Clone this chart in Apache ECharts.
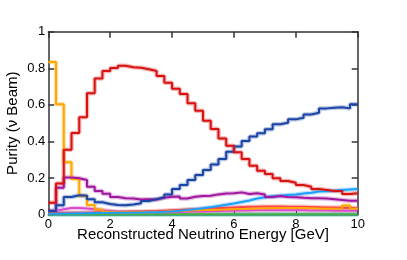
<!DOCTYPE html>
<html><head><meta charset="utf-8">
<script src="https://cdn.jsdelivr.net/npm/echarts@6/dist/echarts.min.js"></script>
<style>html,body{margin:0;padding:0;background:#fff}#c{width:407px;height:260px}</style>
</head><body><div id="c"></div>
<script>
var binEdges = [0,0.25,0.5,0.75,1,1.25,1.5,1.75,2,2.25,2.5,2.75,3,3.25,3.5,3.75,4,4.25,4.5,4.75,5,5.25,5.5,5.75,6,6.25,6.5,6.75,7,7.25,7.5,7.75,8,8.25,8.5,8.75,9,9.25,9.5,9.75,10];
var xTicks = [0,2,4,6,8,10];
var yTicks = [0,0.2,0.4,0.6,0.8,1];
var redVals = [0.065,0.17,0.355,0.446,0.533,0.663,0.744,0.785,0.802,0.814,0.806,0.803,0.795,0.785,0.758,0.721,0.688,0.66,0.609,0.568,0.514,0.468,0.417,0.377,0.341,0.304,0.268,0.24,0.222,0.199,0.184,0.175,0.162,0.153,0.14,0.135,0.13,0.13,0.113,0.117];
var blueVals = [0.02,0.052,0.097,0.106,0.103,0.085,0.068,0.058,0.053,0.052,0.056,0.062,0.075,0.085,0.095,0.111,0.14,0.162,0.19,0.217,0.244,0.275,0.304,0.344,0.372,0.403,0.428,0.445,0.467,0.494,0.503,0.521,0.53,0.548,0.557,0.581,0.585,0.587,0.581,0.603];
var purpleVals = [0.02,0.147,0.203,0.199,0.19,0.153,0.13,0.115,0.097,0.09,0.088,0.083,0.084,0.083,0.092,0.098,0.1,0.088,0.098,0.102,0.104,0.111,0.116,0.117,0.122,0.113,0.117,0.11,0.097,0.102,0.097,0.095,0.092,0.09,0.09,0.088,0.084,0.08,0.076,0.076];
var orangeVals = [0.835,0.603,0.287,0.195,0.103,0.053,0.028,0.016,0.012,0.012,0.012,0.013,0.014,0.015,0.016,0.018,0.02,0.022,0.024,0.025,0.026,0.027,0.028,0.03,0.031,0.032,0.034,0.035,0.035,0.036,0.036,0.037,0.036,0.035,0.034,0.033,0.033,0.034,0.05,0.033];
var lightBlueVals = [0.005,0.006,0.007,0.008,0.008,0.009,0.009,0.01,0.01,0.011,0.011,0.012,0.013,0.014,0.016,0.018,0.022,0.026,0.03,0.035,0.041,0.047,0.054,0.061,0.069,0.078,0.088,0.095,0.101,0.104,0.108,0.111,0.116,0.12,0.127,0.128,0.131,0.135,0.138,0.14];
var salmonVals = [0.008,0.009,0.01,0.01,0.011,0.012,0.013,0.014,0.015,0.016,0.017,0.018,0.019,0.02,0.022,0.024,0.026,0.028,0.03,0.032,0.034,0.036,0.038,0.04,0.042,0.043,0.044,0.045,0.045,0.045,0.044,0.044,0.043,0.042,0.041,0.04,0.039,0.038,0.037,0.037];
var magentaVals = [0.02,0.03,0.036,0.037,0.034,0.03,0.025,0.02,0.016,0.014,0.013,0.013,0.013,0.013,0.014,0.014,0.015,0.016,0.017,0.018,0.019,0.02,0.021,0.022,0.023,0.023,0.024,0.024,0.024,0.024,0.024,0.024,0.024,0.023,0.023,0.023,0.022,0.022,0.022,0.022];
var greenVals = [0.003,0.003,0.003,0.003,0.003,0.003,0.003,0.003,0.003,0.003,0.003,0.003,0.003,0.003,0.003,0.003,0.003,0.003,0.003,0.003,0.003,0.003,0.003,0.003,0.003,0.003,0.003,0.003,0.003,0.003,0.003,0.003,0.003,0.003,0.003,0.003,0.003,0.003,0.003,0.003];
var cyanVals = [0.001,0.001,0.001,0.001,0.001,0.001,0.001,0.001,0.001,0.001,0.001,0.001,0.001,0.001,0.001,0.001,0.001,0.001,0.001,0.001,0.001,0.001,0.001,0.001,0.001,0.001,0.001,0.001,0.001,0.001,0.001,0.001,0.001,0.001,0.001,0.001,0.001,0.001,0.001,0.001];

var seriesDefs = [
  {vals: cyanVals, color: '#40c8d0'},
  {vals: greenVals, color: '#44b044'},
  {vals: magentaVals, color: '#d84ccc'},
  {vals: salmonVals, color: '#ff4444'},
  {vals: orangeVals, color: '#ffa500'},
  {vals: lightBlueVals, color: '#1a9fff'},
  {vals: purpleVals, color: '#a0169e'},
  {vals: blueVals, color: '#1a45a5'},
  {vals: redVals, color: '#d81111'}
];
function stepData(vals){
  var d = [];
  for (var i = 0; i < vals.length; i++) d.push([binEdges[i], vals[i]]);
  d.push([binEdges[vals.length], vals[vals.length-1]]);
  return d;
}
var series = [];
seriesDefs.forEach(function(s){
  var data = stepData(s.vals);
  series.push({type:'line', step:'end', data:data, symbol:'none', silent:true, animation:false,
    lineStyle:{color:s.color, width:4.5, opacity:0.3}, z:2});
  series.push({type:'line', step:'end', data:data, symbol:'none', silent:true, animation:false,
    lineStyle:{color:s.color, width:2}, z:3});
});

var axisCol = '#333';
var chart = echarts.init(document.getElementById('c'), null, {renderer:'canvas'});
var font = 'Liberation Sans, Arial, Helvetica, sans-serif';
chart.setOption({
  backgroundColor:'#fff',
  animation:false,
  grid:{left:48.3, right:49.3, top:31.7, bottom:45.3, containLabel:false, outerBoundsMode:'none'},
  xAxis:[
    {type:'value', min:xTicks[0], max:xTicks[xTicks.length-1], interval:2, position:'bottom',
     name:'Reconstructed Neutrino Energy [GeV]', nameLocation:'middle', nameGap:13, nameMoveOverlap:false,
     nameTextStyle:{fontFamily:font, fontSize:15, color:'#000', verticalAlign:'top'},
     axisLine:{show:true, onZero:false, lineStyle:{color:axisCol, width:1.5}},
     axisTick:{show:true, inside:true, length:5, lineStyle:{color:'#000', width:1}},
     axisLabel:{fontFamily:font, fontSize:13, color:'#000', margin:3},
     splitLine:{show:false}},
    {type:'value', min:xTicks[0], max:xTicks[xTicks.length-1], interval:2, position:'top',
     axisLine:{show:true, onZero:false, lineStyle:{color:axisCol, width:1.5}},
     axisTick:{show:true, inside:true, length:6, lineStyle:{color:axisCol, width:1.5}},
     axisLabel:{show:false}, splitLine:{show:false}}
  ],
  yAxis:[
    {type:'value', min:yTicks[0], max:yTicks[yTicks.length-1], interval:0.2, position:'left',
     name:'Purity (ν Beam)', nameLocation:'middle', nameGap:28, nameMoveOverlap:false,
     nameTextStyle:{fontFamily:font, fontSize:15, color:'#000'},
     axisLine:{show:true, onZero:false, lineStyle:{color:axisCol, width:1.5}},
     axisTick:{show:true, inside:true, length:6, lineStyle:{color:axisCol, width:1.5}},
     axisLabel:{fontFamily:font, fontSize:13, color:'#000', margin:3},
     splitLine:{show:false}},
    {type:'value', min:yTicks[0], max:yTicks[yTicks.length-1], interval:0.2, position:'right',
     axisLine:{show:true, onZero:false, lineStyle:{color:axisCol, width:1.5}},
     axisTick:{show:true, inside:true, length:6, lineStyle:{color:axisCol, width:1.5}},
     axisLabel:{show:false}, splitLine:{show:false}}
  ],
  series: series
});
</script></body></html>
